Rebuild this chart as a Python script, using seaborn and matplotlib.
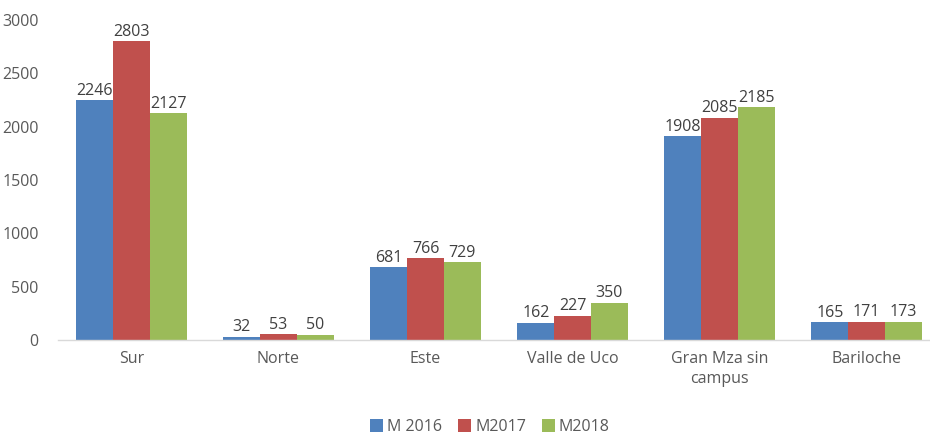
import matplotlib
matplotlib.use("Agg")
import matplotlib.pyplot as plt
import seaborn as sns
import pandas as pd

categories = ["Sur", "Norte", "Este", "Valle de Uco", "Gran Mza sin\ncampus", "Bariloche"]
series_names = ["M 2016", "M2017", "M2018"]
m2016 = [2246, 32, 681, 162, 1908, 165]
m2017 = [2803, 53, 766, 227, 2085, 171]
m2018 = [2127, 50, 729, 350, 2185, 173]
colors = ["#4F81BD", "#C0504D", "#9BBB59"]
y_ticks = [0, 500, 1000, 1500, 2000, 2500, 3000]

rows = []
for name, vals in zip(series_names, [m2016, m2017, m2018]):
    for c, v in zip(categories, vals):
        rows.append({"cat": c, "serie": name, "val": v})
df = pd.DataFrame(rows)

sns.set_style("white")
plt.rcParams["font.family"] = ["Open Sans", "DejaVu Sans"]

W, H = 930, 434
fig = plt.figure(figsize=(W / 100, H / 100), dpi=100)
ax = fig.add_axes([58 / W, (H - 340) / H, (930 - 58) / W, 320 / H])

sns.barplot(data=df, x="cat", y="val", hue="serie", order=categories,
            hue_order=series_names, palette=colors, width=0.75, gap=0,
            saturation=1, ax=ax, errorbar=None, linewidth=0)

for cont in ax.containers:
    ax.bar_label(cont, fmt="%d", padding=1, fontsize=11.5, color="#404040")

ax.set_xlim(-0.5, -0.5 + 872 / 147)
ax.set_ylim(0, 3000)
ax.set_yticks(y_ticks)
ax.set_yticklabels([str(t) for t in y_ticks], fontsize=11.5, color="#595959")
ax.tick_params(axis="x", labelsize=11.5, colors="#595959", length=0, pad=8)
ax.tick_params(axis="y", length=0, pad=14)
for lab in ax.get_xticklabels():
    lab.set_linespacing(1.3)
ax.set_xlabel("")
ax.set_ylabel("")
for s in ["top", "right", "left"]:
    ax.spines[s].set_visible(False)
ax.spines["bottom"].set_color("#D9D9D9")
ax.spines["bottom"].set_linewidth(1)
ax.grid(False)

handles, labels = ax.get_legend_handles_labels()
ax.legend(handles, labels, loc="center", bbox_to_anchor=(490 / W, 7 / H),
          bbox_transform=fig.transFigure, ncol=3, frameon=False,
          handlelength=0.8, handleheight=0.8, handletextpad=0.25,
          columnspacing=1.0, prop={"size": 11.5}, borderpad=0)
for t in ax.get_legend().get_texts():
    t.set_color("#595959")

fig.savefig("out.png", dpi=100)
